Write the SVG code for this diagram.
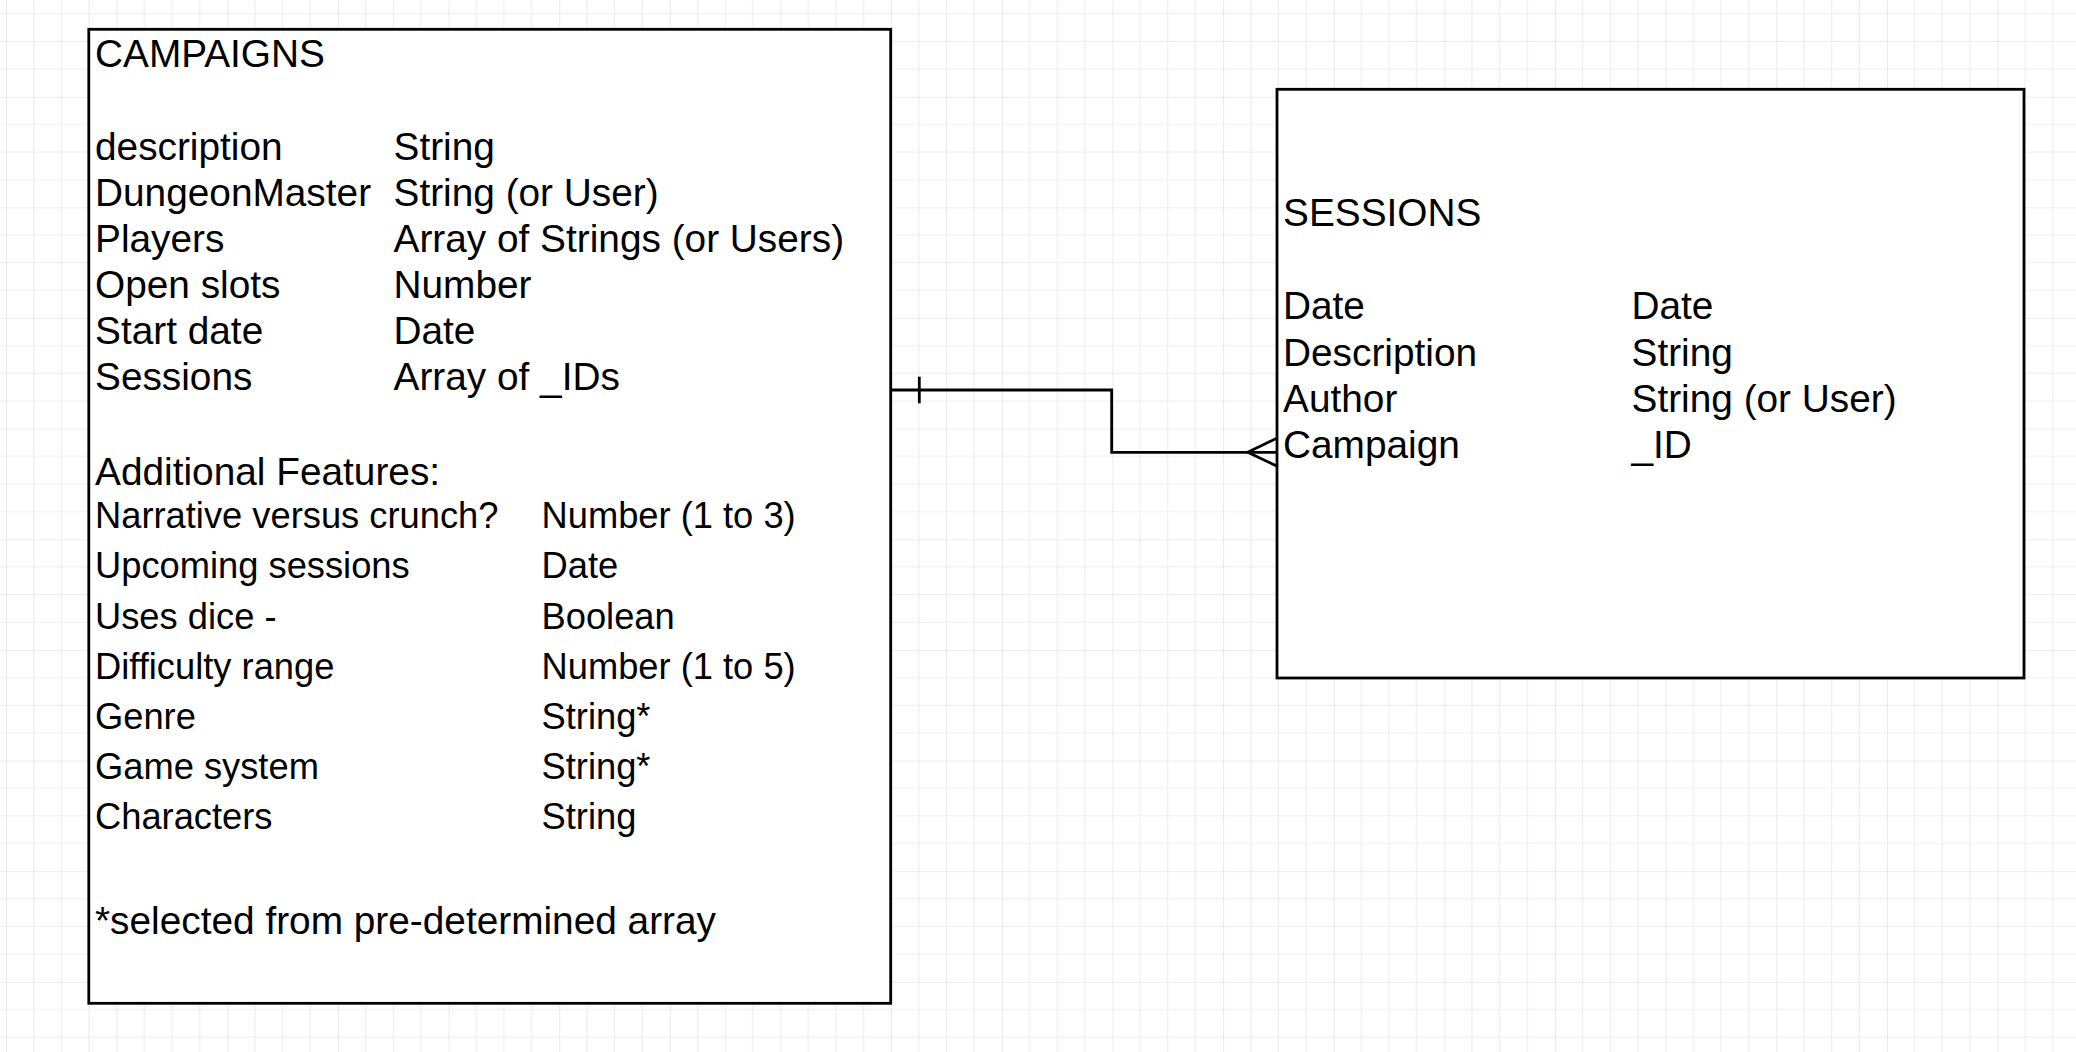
<svg xmlns="http://www.w3.org/2000/svg" width="2076" height="1052" viewBox="0 0 2076 1052">
<style>
.box{fill:#ffffff;stroke:#000000;stroke-width:2.8}
.t{font-family:"Liberation Sans",Arial,sans-serif;font-size:38.8px;fill:#000000}
.s{font-family:"Liberation Sans",Arial,sans-serif;font-size:36.3px;fill:#000000}
.edge{fill:none;stroke:#000000;stroke-width:2.8}
</style>
<defs>
<pattern id="grid" patternUnits="userSpaceOnUse" x="6.06" y="-13.94" width="110.64" height="110.64">
<path d="M27.66 0V110.64M55.32 0V110.64M82.98 0V110.64M0 27.66H110.64M0 55.32H110.64M0 82.98H110.64" stroke="#eeeeee" stroke-width="1.2" fill="none"/>
<path d="M0 0V110.64M0 0H110.64" stroke="#dddddd" stroke-width="1.2" fill="none"/>
</pattern>
</defs>
<rect x="0" y="0" width="2076" height="1052" fill="#ffffff"/>
<rect x="0" y="0" width="2076" height="1052" fill="url(#grid)"/>
<g id="connectors">
<path class="edge" d="M890.7 390H1111.7V452.3H1276.7"/>
<path class="edge" d="M919.3 376.7V403.3"/>
<path class="edge" d="M1276.7 438.3L1247.7 452.3L1276.7 466"/>
</g>
<g id="campaigns">
<rect class="box" x="88.8" y="29.3" width="801.9" height="974"/>
<text class="t" x="95" y="66.5">CAMPAIGNS</text>
<text class="t" x="95" y="159.5">description</text>
<text class="t" x="393.5" y="159.5">String</text>
<text class="t" x="95" y="205.5">DungeonMaster</text>
<text class="t" x="393.5" y="205.5">String (or User)</text>
<text class="t" x="95" y="251.7">Players</text>
<text class="t" x="393.5" y="251.7">Array of Strings (or Users)</text>
<text class="t" x="95" y="297.7">Open slots</text>
<text class="t" x="393.5" y="297.7">Number</text>
<text class="t" x="95" y="344">Start date</text>
<text class="t" x="393.5" y="344">Date</text>
<text class="t" x="95" y="390">Sessions</text>
<text class="t" x="393.5" y="390">Array of _IDs</text>
<text class="t" x="95" y="485">Additional Features:</text>
<text class="s" x="95" y="527.8">Narrative versus crunch?</text>
<text class="s" x="541.5" y="527.8">Number (1 to 3)</text>
<text class="s" x="95" y="577.8">Upcoming sessions</text>
<text class="s" x="541.5" y="577.8">Date</text>
<text class="s" x="95" y="629">Uses dice -</text>
<text class="s" x="541.5" y="629">Boolean</text>
<text class="s" x="95" y="679">Difficulty range</text>
<text class="s" x="541.5" y="679">Number (1 to 5)</text>
<text class="s" x="95" y="729">Genre</text>
<text class="s" x="541.5" y="729">String*</text>
<text class="s" x="95" y="779">Game system</text>
<text class="s" x="541.5" y="779">String*</text>
<text class="s" x="95" y="829">Characters</text>
<text class="s" x="541.5" y="829">String</text>
<text class="t" x="95" y="934">*selected from pre-determined array</text>
</g>
<g id="sessions">
<rect class="box" x="1277" y="89.3" width="747" height="588.7"/>
<text class="t" x="1283" y="225.7">SESSIONS</text>
<text class="t" x="1283" y="319">Date</text>
<text class="t" x="1631.5" y="319">Date</text>
<text class="t" x="1283" y="365.7">Description</text>
<text class="t" x="1631.5" y="365.7">String</text>
<text class="t" x="1283" y="411.7">Author</text>
<text class="t" x="1631.5" y="411.7">String (or User)</text>
<text class="t" x="1283" y="458.3">Campaign</text>
<text class="t" x="1631.5" y="458.3">_ID</text>
</g>
</svg>
